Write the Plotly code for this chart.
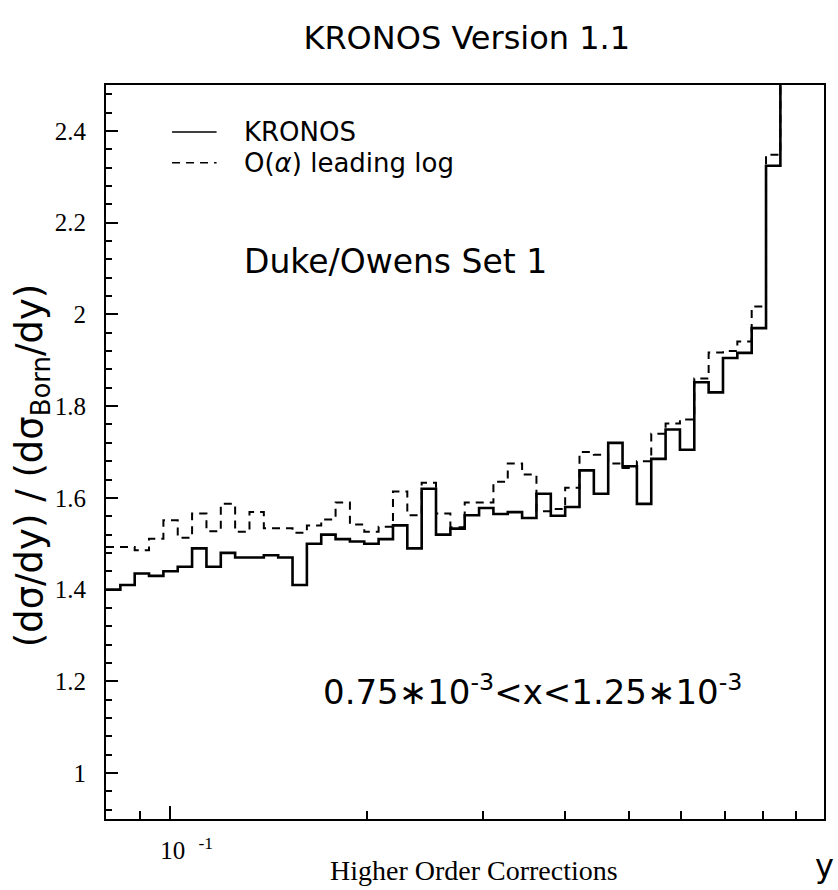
import plotly.graph_objects as go

# Bin edges in y (log-spaced bins)
bin_edges = [0.0800, 0.08413, 0.08847, 0.09303, 0.09784, 0.10288, 0.10819, 0.11378,
             0.11965, 0.12582, 0.13231, 0.13914, 0.14632, 0.15387, 0.16181, 0.17016,
             0.17894, 0.18817, 0.19788, 0.20809, 0.21883, 0.23012, 0.24200, 0.25448,
             0.26762, 0.28142, 0.29595, 0.31122, 0.32728, 0.34416, 0.36192, 0.38060,
             0.40024, 0.42089, 0.44261, 0.46545, 0.48946, 0.51472, 0.54128, 0.56921,
             0.59858, 0.62947, 0.66195, 0.69610, 0.73202, 0.76980, 0.80952, 0.85129,
             0.89522]

kronos = [1.40, 1.41, 1.435, 1.43, 1.44, 1.45, 1.49, 1.45, 1.48, 1.47,
          1.47, 1.475, 1.47, 1.41, 1.50, 1.52, 1.51, 1.505, 1.50, 1.51,
          1.54, 1.49, 1.62, 1.52, 1.533, 1.562, 1.578, 1.565, 1.569, 1.556,
          1.609, 1.561, 1.58, 1.66, 1.609, 1.72, 1.669, 1.587, 1.685, 1.749,
          1.705, 1.852, 1.83, 1.905, 1.916, 1.97, 2.324, 2.9]

leading_log = [1.493, 1.493, 1.486, 1.511, 1.551, 1.513, 1.566, 1.527, 1.587, 1.526,
               1.569, 1.534, 1.534, 1.524, 1.54, 1.553, 1.59, 1.542, 1.526, 1.537,
               1.614, 1.562, 1.633, 1.566, 1.536, 1.59, 1.59, 1.635, 1.675, 1.651,
               1.571, 1.576, 1.622, 1.70, 1.694, 1.675, 1.665, 1.68, 1.74, 1.762,
               1.771, 1.86, 1.917, 1.92, 1.941, 2.017, 2.348, 2.95]

series_names = ["KRONOS", "O(<i>α</i>) leading log"]

x_major_ticks = [0.1]
x_major_text = ["10<sup>\u00a0\u00a0\u00a0-1</sup>"]
x_minor_ticks = [0.09, 0.2, 0.3, 0.4, 0.5, 0.6, 0.7, 0.8, 0.9]

SANS = "DejaVu Sans"
SERIF = "Liberation Serif"


def step_xy(edges, vals):
    return list(edges), list(vals) + [vals[-1]]


fig = go.Figure()
xs, ys = step_xy(bin_edges, kronos)
fig.add_trace(go.Scatter(x=xs, y=ys, mode="lines", line_shape="hv",
                         line=dict(color="black", width=2.6),
                         name=series_names[0], showlegend=False))
xs, ys = step_xy(bin_edges, leading_log)
fig.add_trace(go.Scatter(x=xs, y=ys, mode="lines", line_shape="hv",
                         line=dict(color="black", width=2, dash="8px,6px"),
                         name=series_names[1], showlegend=False))

fig.update_layout(
    width=838, height=890,
    margin=dict(l=106, r=12, t=85, b=71),
    paper_bgcolor="white", plot_bgcolor="white",
    showlegend=False,
    title=dict(text="KRONOS Version 1.1", x=0.557, xanchor="center", y=0.958, yanchor="middle",
               font=dict(family=SANS, size=32, color="black")),
)

fig.update_xaxes(
    type="log", range=[-1.0969, -0.0035],
    showgrid=False, zeroline=False,
    showline=True, linecolor="black", linewidth=2, mirror=True,
    ticks="inside", ticklen=13, tickwidth=1.5, tickcolor="black",
    tickmode="array", tickvals=x_major_ticks, ticktext=x_major_text,
    tickfont=dict(family=SERIF, size=25, color="black"),
    ticklabelstandoff=8, ticklabelshift=17,
    minor=dict(tickmode="array", tickvals=x_minor_ticks, ticks="inside", ticklen=8,
               tickwidth=1.5, tickcolor="black", showgrid=False),
)

fig.update_yaxes(
    range=[0.9, 2.5],
    showgrid=False, zeroline=False,
    showline=True, linecolor="black", linewidth=2, mirror=True,
    ticks="inside", ticklen=12, tickwidth=1.5, tickcolor="black",
    tick0=1.0, dtick=0.2,
    tickfont=dict(family=SERIF, size=25, color="black"),
    ticklabelstandoff=13,
)
fig.update_yaxes(minor=dict(dtick=0.04, tick0=1.0, ticks="inside", ticklen=6, tickwidth=1.5,
                            tickcolor="black", showgrid=False))

# y-axis title
fig.add_annotation(text="(dσ/dy) / (dσ<sub>Born</sub>/dy)", xref="paper", yref="paper",
                   x=-0.103, y=0.482, xanchor="center", yanchor="middle", textangle=-90,
                   showarrow=False, font=dict(family=SANS, size=37, color="black"))

# legend (drawn as key lines + labels)
fig.add_shape(type="line", xref="paper", yref="paper", x0=0.092, x1=0.154, y0=0.936, y1=0.936,
              line=dict(color="black", width=1.5))
fig.add_shape(type="line", xref="paper", yref="paper", x0=0.092, x1=0.154, y0=0.894, y1=0.894,
              line=dict(color="black", width=1.5, dash="8px,6px"))
fig.add_annotation(text=series_names[0], xref="paper", yref="paper",
                   x=0.19, y=0.936, xanchor="left", yanchor="middle", showarrow=False,
                   font=dict(family=SANS, size=26, color="black"))
fig.add_annotation(text=series_names[1], xref="paper", yref="paper",
                   x=0.19, y=0.894, xanchor="left", yanchor="middle", showarrow=False,
                   font=dict(family=SANS, size=26, color="black"))

fig.add_annotation(text="Duke/Owens Set 1", xref="paper", yref="paper",
                   x=0.19, y=0.759, xanchor="left", yanchor="middle", showarrow=False,
                   font=dict(family=SANS, size=33, color="black"))
fig.add_annotation(text="0.75∗10<sup>-3</sup>&lt;x&lt;1.25∗10<sup>-3</sup>", xref="paper", yref="paper",
                   x=0.30, y=0.176, xanchor="left", yanchor="middle", showarrow=False,
                   font=dict(family=SANS, size=34, color="black"))
fig.add_annotation(text="Higher Order Corrections", xref="paper", yref="paper",
                   x=0.5125, y=-0.0695, xanchor="center", yanchor="middle", showarrow=False,
                   font=dict(family=SERIF, size=28, color="black"))
fig.add_annotation(text="y", xref="paper", yref="paper",
                   x=1.0, y=-0.064, xanchor="center", yanchor="middle", showarrow=False,
                   font=dict(family=SANS, size=32, color="black"))

fig.write_html("out.html")
